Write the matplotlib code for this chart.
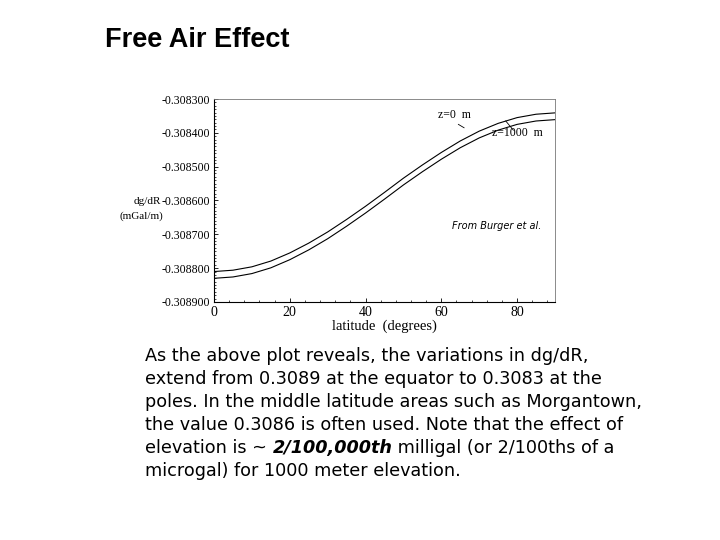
import numpy as np
import matplotlib.pyplot as plt
from matplotlib.ticker import MultipleLocator, FormatStrFormatter

# latitude (degrees) and dg/dR (mGal/m)
latitude = [0, 5, 10, 15, 20, 25, 30, 35, 40, 45, 50, 55, 60, 65, 70, 75, 80, 85, 90]
dgdr_z0 = [-0.308810, -0.308806, -0.308796, -0.308779, -0.308755, -0.308726, -0.308693,
           -0.308656, -0.308617, -0.308576, -0.308534, -0.308495, -0.308458, -0.308424,
           -0.308395, -0.308372, -0.308355, -0.308345, -0.308341]
dgdr_z1000 = [-0.308830, -0.308826, -0.308816, -0.308799, -0.308775, -0.308746, -0.308713,
              -0.308676, -0.308637, -0.308596, -0.308554, -0.308515, -0.308478, -0.308444,
              -0.308415, -0.308392, -0.308375, -0.308365, -0.308361]
xticks = [0, 20, 40, 60, 80]
yticks = [-0.3089, -0.3088, -0.3087, -0.3086, -0.3085, -0.3084, -0.3083]

paragraph = [
    "As the above plot reveals, the variations in dg/dR,",
    "extend from 0.3089 at the equator to 0.3083 at the",
    "poles. In the middle latitude areas such as Morgantown,",
    "the value 0.3086 is often used. Note that the effect of",
]

serif = 'Liberation Serif'

fig = plt.figure(figsize=(7.2, 5.4), dpi=100)
fig.text(105 / 720, 1 - 40 / 540, 'Free Air Effect', fontsize=19.5, fontweight='bold',
         family='Liberation Sans', va='center', ha='left')

ax = fig.add_axes([214 / 720, 1 - 302 / 540, 341 / 720, 203 / 540])
ax.plot(latitude, dgdr_z0, color='black', lw=0.8)
ax.plot(latitude, dgdr_z1000, color='black', lw=0.8)
ax.set_xlim(0, 90)
ax.set_ylim(-0.3089, -0.3083)
ax.set_xticks(xticks)
ax.set_yticks(yticks)
ax.xaxis.set_minor_locator(MultipleLocator(4))
ax.yaxis.set_minor_locator(MultipleLocator(0.00001))
ax.yaxis.set_major_formatter(FormatStrFormatter('%.6f'))
ax.tick_params(which='both', direction='in', labelsize=8.5, pad=3)
ax.tick_params(which='major', length=3, width=0.6)
ax.tick_params(which='minor', length=1.5, width=0.5)
ax.tick_params(axis='x', labelsize=10, pad=3)
for lbl in ax.get_xticklabels() + ax.get_yticklabels():
    lbl.set_family(serif)
for s in ['top', 'right']:
    ax.spines[s].set_color('#777777')
    ax.spines[s].set_linewidth(0.6)
for s in ['left', 'bottom']:
    ax.spines[s].set_linewidth(0.8)
ax.set_xlabel('latitude  (degrees)', family=serif, fontsize=10.5, labelpad=0)

fig.text(134 / 720, 1 - 201 / 540, 'dg/dR', family=serif, fontsize=8, va='center')
fig.text(120 / 720, 1 - 216 / 540, '(mGal/m)', family=serif, fontsize=8, va='center')

ax.text(86.5, -0.308675, 'From Burger et al.', fontsize=7, style='italic', ha='right',
        va='center')
ax.text(59, -0.308355, 'z=0  m', family=serif, fontsize=8.5, ha='left')
ax.plot([64.5, 66], [-0.308375, -0.308385], color='black', lw=0.6)
ax.text(73.5, -0.30841, 'z=1000  m', family=serif, fontsize=8.5, ha='left')
ax.plot([77, 79], [-0.308365, -0.308392], color='black', lw=0.6)

x0 = 145 / 720
fs = 12.7
line_h = 23 / 540
y0 = 1 - 356 / 540
for i, line in enumerate(paragraph):
    fig.text(x0, y0 - i * line_h, line, fontsize=fs, va='center', ha='left')

# line with the italic part
y5 = y0 - 4 * line_h
fig.canvas.draw()
r = fig.canvas.get_renderer()
t1 = fig.text(x0, y5, 'elevation is ~ ', fontsize=fs, va='center', ha='left')
w1 = t1.get_window_extent(r).width / fig.bbox.width
t2 = fig.text(x0 + w1, y5, '2/100,000th', fontsize=fs, va='center', ha='left',
              style='italic', fontweight='bold')
w2 = t2.get_window_extent(r).width / fig.bbox.width
fig.text(x0 + w1 + w2, y5, ' milligal (or 2/100ths of a', fontsize=fs, va='center', ha='left')
fig.text(x0, y0 - 5 * line_h, 'microgal) for 1000 meter elevation.', fontsize=fs,
         va='center', ha='left')

fig.savefig('out.png', dpi=100)
